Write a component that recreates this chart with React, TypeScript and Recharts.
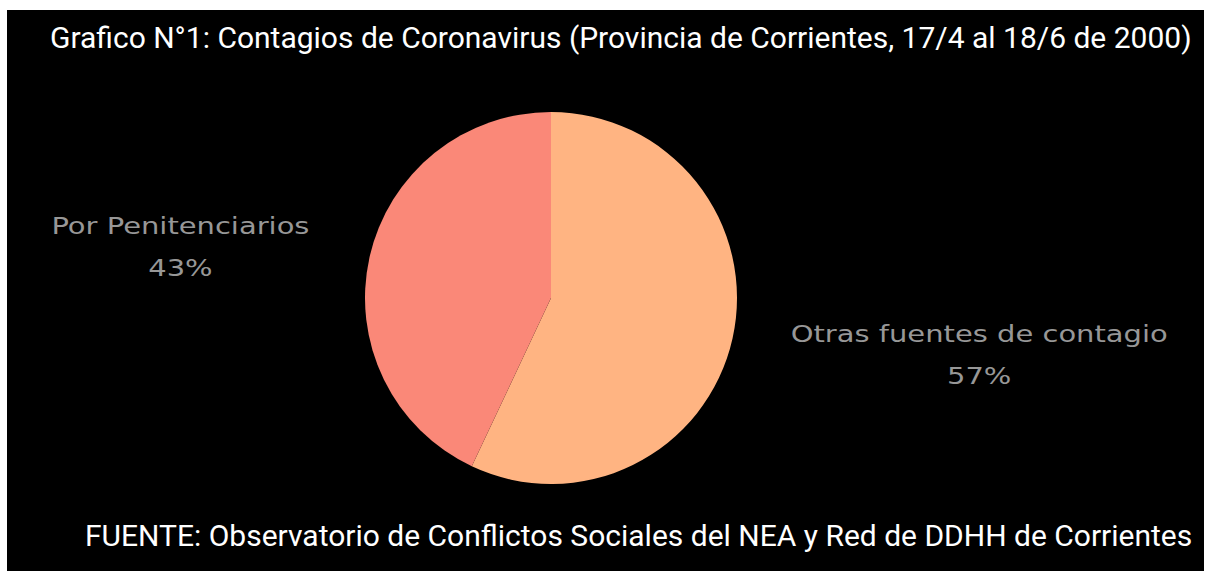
import React from "react";
import { PieChart, Pie, Cell } from "recharts";

const categories = ["Otras fuentes de contagio", "Por Penitenciarios"];
const values = [57, 43];
const colors = ["#FFB482", "#FA8878"];
const titleText =
  "Grafico N°1: Contagios de Coronavirus (Provincia de Corrientes, 17/4 al 18/6 de 2000)";
const sourceText =
  "FUENTE: Observatorio de Conflictos Sociales del NEA y Red de DDHH de Corrientes";

const data = categories.map((name, i) => ({ name, value: values[i] }));

const RAD = Math.PI / 180;
// label placement: distance from center and angle off horizontal
const labelDist = [432, 374];
const labelAngleAdj = [7.6, 7.8];
const STRETCH = 1.26;

const renderLabel = (props: any) => {
  const { cx, cy, midAngle, index, name, value } = props;
  const side = Math.cos(-midAngle * RAD) >= 0 ? 1 : -1;
  const ang = labelAngleAdj[index] * RAD;
  const d = labelDist[index];
  const x = cx + side * d * Math.cos(ang);
  const yc = cy + side * d * Math.sin(ang);
  return (
    <text
      x={x}
      y={yc}
      fill="#979797"
      textAnchor="middle"
      fontFamily="'DejaVu Sans', sans-serif"
      fontSize={23}
      transform={`translate(${x} 0) scale(${STRETCH} 1) translate(${-x} 0)`}
    >
      <tspan x={x} y={yc - 13}>{name}</tspan>
      <tspan x={x} y={yc + 29}>{`${value}%`}</tspan>
    </text>
  );
};

export default function App() {
  return (
    <div
      style={{
        position: "absolute",
        left: 0,
        top: 0,
        width: 1206,
        height: 571,
        background: "#ffffff",
        overflow: "hidden",
      }}
    >
      <div
        style={{
          position: "absolute",
          left: 7,
          top: 10,
          width: 1197,
          height: 561,
          background: "#000000",
        }}
      >
        <PieChart width={1197} height={561} margin={{ top: 0, right: 0, bottom: 0, left: 0 }}>
          <Pie
            data={data}
            dataKey="value"
            nameKey="name"
            cx={544}
            cy={288}
            outerRadius={186}
            startAngle={90}
            endAngle={-270}
            stroke="none"
            label={renderLabel}
            labelLine={false}
            isAnimationActive={false}
          >
            {data.map((d, i) => (
              <Cell key={d.name} fill={colors[i]} />
            ))}
          </Pie>
        </PieChart>
        <svg
          width={1197}
          height={561}
          style={{ position: "absolute", left: 0, top: 0, pointerEvents: "none" }}
        >
          <text x={43} y={38} fill="#ffffff" fontFamily="Roboto, sans-serif" fontSize={30}>
            {titleText}
          </text>
          <text x={78} y={536} fill="#ffffff" fontFamily="Roboto, sans-serif" fontSize={30}>
            {sourceText}
          </text>
        </svg>
      </div>
    </div>
  );
}
